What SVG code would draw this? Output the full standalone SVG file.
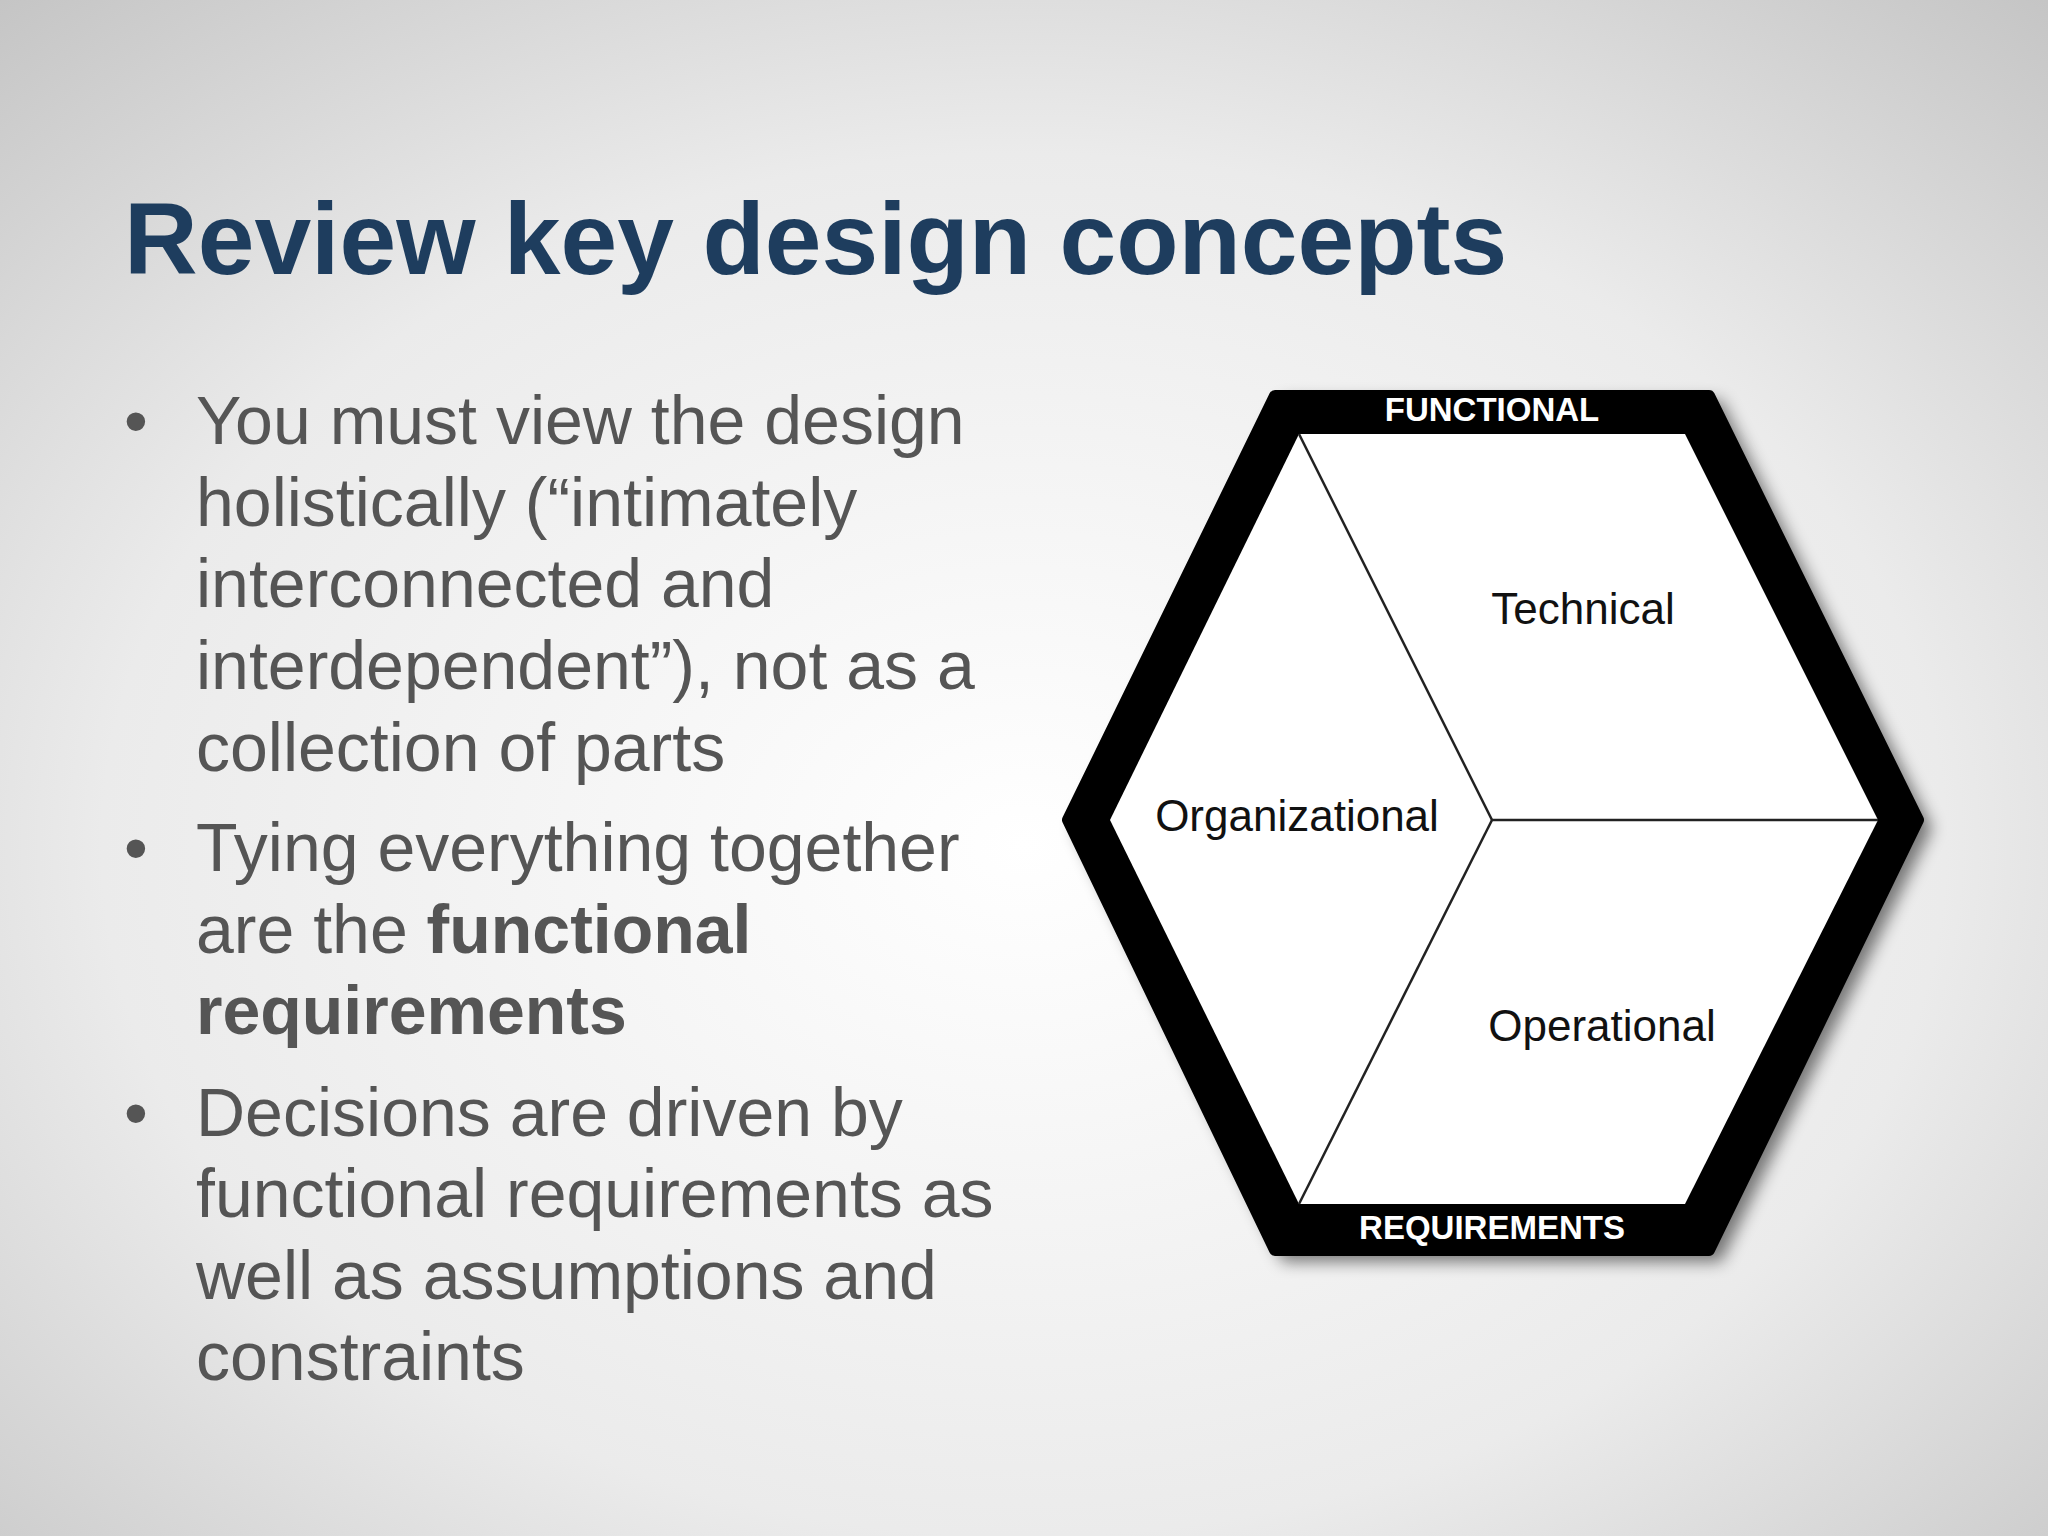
<svg xmlns="http://www.w3.org/2000/svg" width="2048" height="1536" viewBox="0 0 2048 1536">
<defs>
<radialGradient id="bg" cx="0.5" cy="0.55" r="0.75">
<stop offset="0" stop-color="#ffffff"/><stop offset="0.6" stop-color="#ebebeb"/><stop offset="1" stop-color="#c4c4c4"/>
</radialGradient>
<filter id="sh" x="-10%" y="-10%" width="130%" height="130%"><feGaussianBlur stdDeviation="8"/></filter>
</defs>
<style>
.b{font-family:"Liberation Sans",Arial,sans-serif;font-size:68px;fill:#555555}
.h{font-family:"Liberation Sans",Arial,sans-serif;font-size:44px;fill:#111}
.w{font-family:"Liberation Sans",Arial,sans-serif;font-size:33px;font-weight:bold;fill:#fff}
</style>
<rect width="2048" height="1536" fill="url(#bg)"/>
<text x="124" y="274" font-family="Liberation Sans,Arial,sans-serif" font-size="102" font-weight="bold" fill="#1e3d5e">Review key design concepts</text>
<g id="bullets" class="b">
<text x="124" y="444">•</text>
<text x="196" y="444">You must view the design</text>
<text x="196" y="526">holistically (“intimately</text>
<text x="196" y="607">interconnected and</text>
<text x="196" y="689">interdependent”), not as a</text>
<text x="196" y="771">collection of parts</text>
<text x="124" y="871">•</text>
<text x="196" y="871">Tying everything together</text>
<text x="196" y="953">are the <tspan font-weight="bold">functional</tspan></text>
<text x="196" y="1034" font-weight="bold">requirements</text>
<text x="124" y="1136">•</text>
<text x="196" y="1136">Decisions are driven by</text>
<text x="196" y="1217">functional requirements as</text>
<text x="196" y="1299">well as assumptions and</text>
<text x="196" y="1380">constraints</text>
</g>
<g id="hexagon">
<polygon points="1283,400 1721,400 1932,828 1721,1262 1283,1262 1074,828" fill="#000" opacity="0.5" filter="url(#sh)"/>
<polygon points="1275,396 1709,396 1918,820 1709,1250 1275,1250 1068,820" fill="#000" stroke="#000" stroke-width="12" stroke-linejoin="round"/>
<polygon points="1299,434 1685,434 1878,820 1685,1204 1299,1204 1110,820" fill="#fff"/>
</g>
<g id="connectors" stroke="#222" stroke-width="2.5" fill="none">
<line x1="1492" y1="820" x2="1299" y2="434"/>
<line x1="1492" y1="820" x2="1878" y2="820"/>
<line x1="1492" y1="820" x2="1299" y2="1204"/>
</g>
<g id="labels">
<text class="w" x="1492" y="421" text-anchor="middle">FUNCTIONAL</text>
<text class="w" x="1492" y="1239" text-anchor="middle">REQUIREMENTS</text>
<text class="h" x="1583" y="624" text-anchor="middle">Technical</text>
<text class="h" x="1297" y="831" text-anchor="middle">Organizational</text>
<text class="h" x="1602" y="1041" text-anchor="middle">Operational</text>
</g>
</svg>
